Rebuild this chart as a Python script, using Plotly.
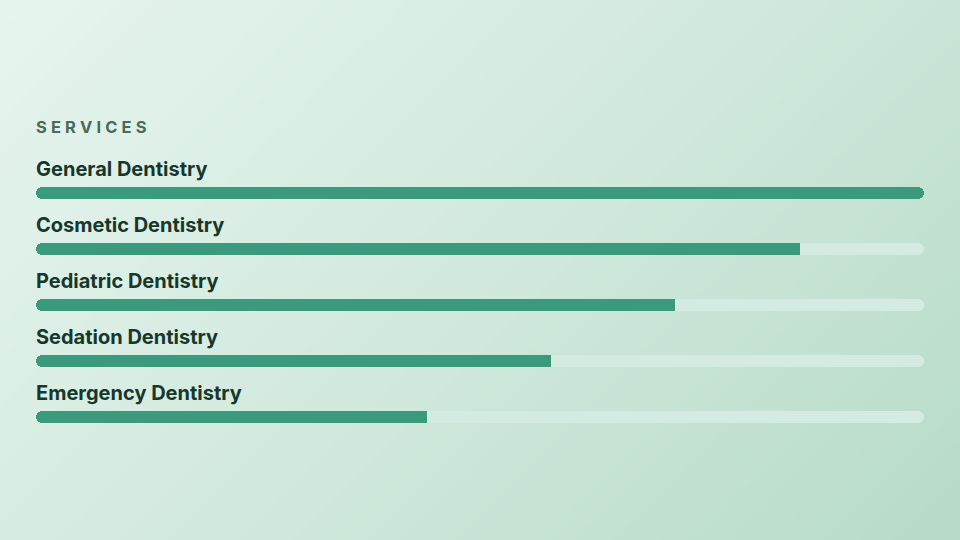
import numpy as np
import plotly.graph_objects as go

title_text = "SERVICES"
services = ["General Dentistry", "Cosmetic Dentistry", "Pediatric Dentistry",
            "Sedation Dentistry", "Emergency Dentistry"]
values = [100, 86, 72, 58, 44]
max_value = 100

FILL = "#3b9a7b"
TRACK = "#d4ebe1"
LABEL = "#16372a"
TITLE = "#4a6b59"
FONT = "Inter"

W, H = 960, 540
X0, X1 = 36, 924
BAR_PX = 12
ROW_PX = 56
top_center = 193
plot_top = top_center - ROW_PX / 2
plot_bottom = plot_top + ROW_PX * len(services)

px_per_unit = (X1 - X0) / max_value
r_units = (BAR_PX / 2) / px_per_unit  # corner radius in data units
n = len(services)

fig = go.Figure()

# background gradient (135deg)
gx = np.linspace(0, W, 40)
gy = np.linspace(0, H, 24)
gz = (gx[None, :] + gy[:, None]) / (W + H)
fig.add_trace(go.Heatmap(
    x=gx, y=gy, z=gz, zsmooth="best", showscale=False, hoverinfo="skip",
    colorscale=[[0, "#e7f5ef"], [0.5, "#d1e9dd"], [1, "#b7dbc8"]],
    xaxis="x", yaxis="y",
))

bw = BAR_PX / ROW_PX
common = dict(orientation="h", width=bw, xaxis="x2", yaxis="y2", hoverinfo="skip")

# track: pill shape (both ends rounded)
fig.add_trace(go.Bar(
    y=services, x=[max_value] * n, base=[0] * n,
    marker=dict(color=TRACK, cornerradius=BAR_PX / 2, line=dict(width=0)), **common,
))

# fill, clipped by the rounded track: round left cap + square body (+ round right cap when full)
left_cap = [2 * r_units if v > 0 else 0 for v in values]
body_end = [min(v, max_value - r_units) for v in values]
body = [max(e - r_units, 0) for e in body_end]
right_cap = [2 * r_units if v >= max_value - r_units else 0 for v in values]

fig.add_trace(go.Bar(
    y=services, x=left_cap, base=[0] * n,
    marker=dict(color=FILL, cornerradius=BAR_PX / 2, line=dict(width=0)), **common,
))
fig.add_trace(go.Bar(
    y=services, x=body, base=[r_units] * n,
    marker=dict(color=FILL, line=dict(width=0)), **common,
))
fig.add_trace(go.Bar(
    y=services, x=right_cap, base=[max_value - 2 * r_units] * n,
    marker=dict(color=FILL, cornerradius=BAR_PX / 2, line=dict(width=0)), **common,
))

annotations = [dict(
    text="\u2005".join(title_text), xref="paper", yref="paper", x=X0 / W, y=1 - 127 / H,
    xanchor="left", yanchor="middle", showarrow=False, xshift=-2,
    font=dict(family=FONT, size=16.5, color=TITLE, weight=700),
)]
for s in services:
    annotations.append(dict(
        text=s, xref="x2", yref="y2", x=0, y=s, xanchor="left", yanchor="middle",
        yshift=24, xshift=-2, showarrow=False,
        font=dict(family=FONT, size=20, color=LABEL, weight=700),
    ))

fig.update_layout(
    width=W, height=H, margin=dict(l=0, r=0, t=0, b=0),
    paper_bgcolor="#e7f5ef", plot_bgcolor="rgba(0,0,0,0)",
    showlegend=False, barmode="overlay", bargap=0,
    annotations=annotations,
    xaxis=dict(domain=[0, 1], range=[0, W], visible=False, fixedrange=True),
    yaxis=dict(domain=[0, 1], range=[H, 0], visible=False, fixedrange=True),
    xaxis2=dict(domain=[X0 / W, X1 / W], range=[0, max_value], visible=False,
                anchor="y2", fixedrange=True),
    yaxis2=dict(domain=[1 - plot_bottom / H, 1 - plot_top / H],
                range=[n - 0.5, -0.5], visible=False, anchor="x2",
                type="category", categoryorder="array", categoryarray=services,
                fixedrange=True),
)

fig.write_html("out.html", config={"displayModeBar": False},
               post_script="document.body.style.margin='0';")
